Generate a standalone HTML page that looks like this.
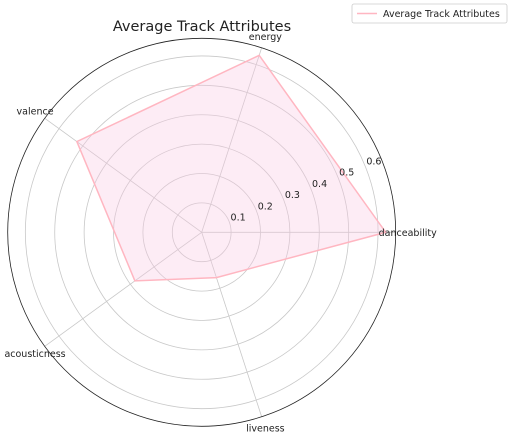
<!DOCTYPE html>
<html><head><meta charset="utf-8"><style>
html,body{margin:0;padding:0;background:#fff;}
svg{display:block;font-family:"DejaVu Sans","Liberation Sans",sans-serif;}
</style></head><body>
<svg id="chart" width="512" height="436" viewBox="0 0 512 436" xmlns="http://www.w3.org/2000/svg">
<text x="202" y="31" font-size="14.5" text-anchor="middle" fill="#222">Average Track Attributes</text>
<g id="grid"></g>
<g id="series"></g>
<g id="labels"></g>
<g>
<rect x="352" y="4" width="155" height="19" rx="2" fill="#fff" stroke="#ccc" stroke-width="0.8"/>
<line x1="357" y1="13.5" x2="377" y2="13.5" stroke="#ffb6c1" stroke-width="1.5"/>
<text x="383" y="17" font-size="9.5" fill="#222">Average Track Attributes</text>
</g>
</svg>
<script>
const categories = ["danceability","energy","valence","acousticness","liveness"];
const values = [0.626, 0.633, 0.525, 0.281, 0.162];
const ticks = [0.1,0.2,0.3,0.4,0.5,0.6];
const tickLabels = ["0.1","0.2","0.3","0.4","0.5","0.6"];
const rMax = 0.66;
const NS="http://www.w3.org/2000/svg";
const cx=201.7, cy=232.3, R=194;
function rad(v){return v/rMax*R;}
function ang(i){return i*2*Math.PI/categories.length;}
function pt(i,v){const a=ang(i);return [cx+rad(v)*Math.cos(a), cy-rad(v)*Math.sin(a)];}
function mk(tag,attrs,parent){const e=document.createElementNS(NS,tag);for(const k in attrs)e.setAttribute(k,attrs[k]);parent.appendChild(e);return e;}
const grid=document.getElementById('grid');
ticks.forEach((t,j)=>{
  const c=mk('circle',{cx:cx,cy:cy,r:rad(t),fill:'none',stroke:'#c8c8c8','stroke-width':0.8},grid);
  
  
});
categories.forEach((c,i)=>{
  const p=pt(i,rMax);
  const l=mk('line',{x1:cx,y1:cy,x2:p[0],y2:p[1],stroke:'#c8c8c8','stroke-width':0.8},grid);
  
  
});
const outer=mk('circle',{cx:cx,cy:cy,r:R,fill:'none',stroke:'#222','stroke-width':0.8},grid);


const series=document.getElementById('series');
const pts=values.map((v,i)=>pt(i,v).join(',')).join(' ');
const poly=mk('polygon',{points:pts,fill:'rgba(250,200,225,0.35)',stroke:'#ffb6c1','stroke-width':1.5},series);


const labels=document.getElementById('labels');
const ta=22.5*Math.PI/180;
ticks.forEach((t,j)=>{
  const r=rad(t)+10;
  const tx=mk('text',{x:cx+r*Math.cos(ta),y:cy-r*Math.sin(ta)+3.5,'font-size':9.5,'text-anchor':'middle',fill:'#222'},labels);
  tx.textContent=tickLabels[j];
  
  
});
categories.forEach((c,i)=>{
  const a=ang(i);const r=R+12;
  const x=cx+r*Math.cos(a), y=cy-r*Math.sin(a)+3.5;
  const tx=mk('text',{x:x,y:y,'font-size':9.5,'text-anchor':'middle',fill:'#222'},labels);
  tx.textContent=c;
  
  
});
</script>
</body></html>
